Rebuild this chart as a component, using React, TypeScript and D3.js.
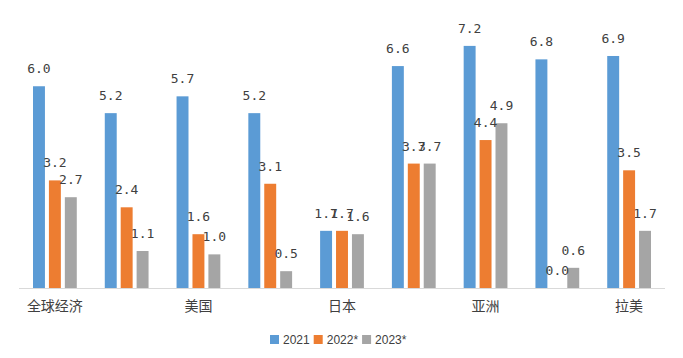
import React, { Component } from "react";
import * as d3 from "d3";

// categories (only every other one gets a label on the axis, like the original)
const categories = ["全球经济", "发达经济体", "美国", "欧元区", "日本", "新兴经济体", "亚洲", "新兴欧洲", "拉美"];
const series = ["2021", "2022*", "2023*"];
const values2021 = [6.0, 5.2, 5.7, 5.2, 1.7, 6.6, 7.2, 6.8, 6.9];
const values2022 = [3.2, 2.4, 1.6, 3.1, 1.7, 3.7, 4.4, 0.0, 3.5];
const values2023 = [2.7, 1.1, 1.0, 0.5, 1.6, 3.7, 4.9, 0.6, 1.7];
const colors = ["#5B9BD5", "#ED7D31", "#A5A5A5"];

class App extends Component {
    svgRef = React.createRef<SVGSVGElement>();

    componentDidMount() {
        this.draw();
    }

    draw() {
        var width = 683,
            height = 358,
            left = 19,
            right = 665,
            baseline = 288;

        var svg = d3.select(this.svgRef.current);
        svg.selectAll("*").remove();

        // build rows: [category, value per series]
        var allValues = [values2021, values2022, values2023];
        var rows = categories.map((c, i) => ({ cat: c, vals: allValues.map((s) => s[i]) }));

        var x0 = d3.scaleBand().domain(categories).range([left, right]).padding(0);
        var x1 = d3.scaleBand().domain(series).range([14, x0.bandwidth() - 14]).paddingInner(0.25);
        var y = d3.scaleLinear().domain([0, 8]).range([baseline, 19]);

        // bars
        var groups = svg
            .selectAll(".grp")
            .data(rows)
            .join("g")
            .attr("class", "grp")
            .attr("transform", (d) => `translate(${x0(d.cat)},0)`);

        groups
            .selectAll("rect")
            .data((d) => d.vals.map((v, k) => ({ key: series[k], v: v, k: k })))
            .join("rect")
            .attr("x", (d) => x1(d.key))
            .attr("y", (d) => y(d.v))
            .attr("width", x1.bandwidth())
            .attr("height", (d) => baseline - y(d.v))
            .attr("fill", (d) => colors[d.k]);

        // value labels
        groups
            .selectAll("text")
            .data((d) => d.vals.map((v, k) => ({ key: series[k], v: v, k: k })))
            .join("text")
            .attr("x", (d) => x1(d.key) + x1.bandwidth() / 2)
            .attr("y", (d) => y(d.v) - 13)
            .attr("text-anchor", "middle")
            .attr("font-family", "'DejaVu Sans Mono', monospace")
            .attr("font-size", 13)
            .attr("fill", "#404040")
            .text((d) => d3.format(".1f")(d.v));

        // x axis line
        svg.append("line")
            .attr("x1", left)
            .attr("x2", right)
            .attr("y1", baseline + 0.5)
            .attr("y2", baseline + 0.5)
            .attr("stroke", "#D9D9D9")
            .attr("stroke-width", 1);

        // category labels, every other one
        svg.selectAll(".cat")
            .data(categories.filter((c, i) => i % 2 === 0))
            .join("text")
            .attr("class", "cat")
            .attr("x", (d) => x0(d) + x0.bandwidth() / 2)
            .attr("y", 311)
            .attr("text-anchor", "middle")
            .attr("font-family", "'Noto Sans CJK SC', sans-serif")
            .attr("font-size", 14)
            .attr("fill", "#404040")
            .text((d) => d);

        // legend
        var legend = svg.append("g");
        var xPos = 0;
        series.forEach((s, k) => {
            var item = legend.append("g").attr("transform", `translate(${xPos},0)`);
            item.append("rect").attr("x", 0).attr("y", -4.5).attr("width", 9).attr("height", 9).attr("fill", colors[k]);
            var t = item.append("text")
                .attr("x", 13)
                .attr("y", 4.5)
                .attr("font-family", "'Liberation Sans', Arial, sans-serif")
                .attr("font-size", 12)
                .attr("fill", "#404040")
                .text(s);
            var tw = (t.node() as SVGTextElement).getComputedTextLength();
            xPos += 13 + tw + 4;
        });
        legend.attr("transform", `translate(${270},${339.5})`);

        svg.attr("width", width).attr("height", height);
    }

    render() {
        return (
            <svg
                ref={this.svgRef}
                width={683}
                height={358}
                style={{ position: "absolute", left: 0, top: 0, background: "#fff" }}
            ></svg>
        );
    }
}

export default App;
